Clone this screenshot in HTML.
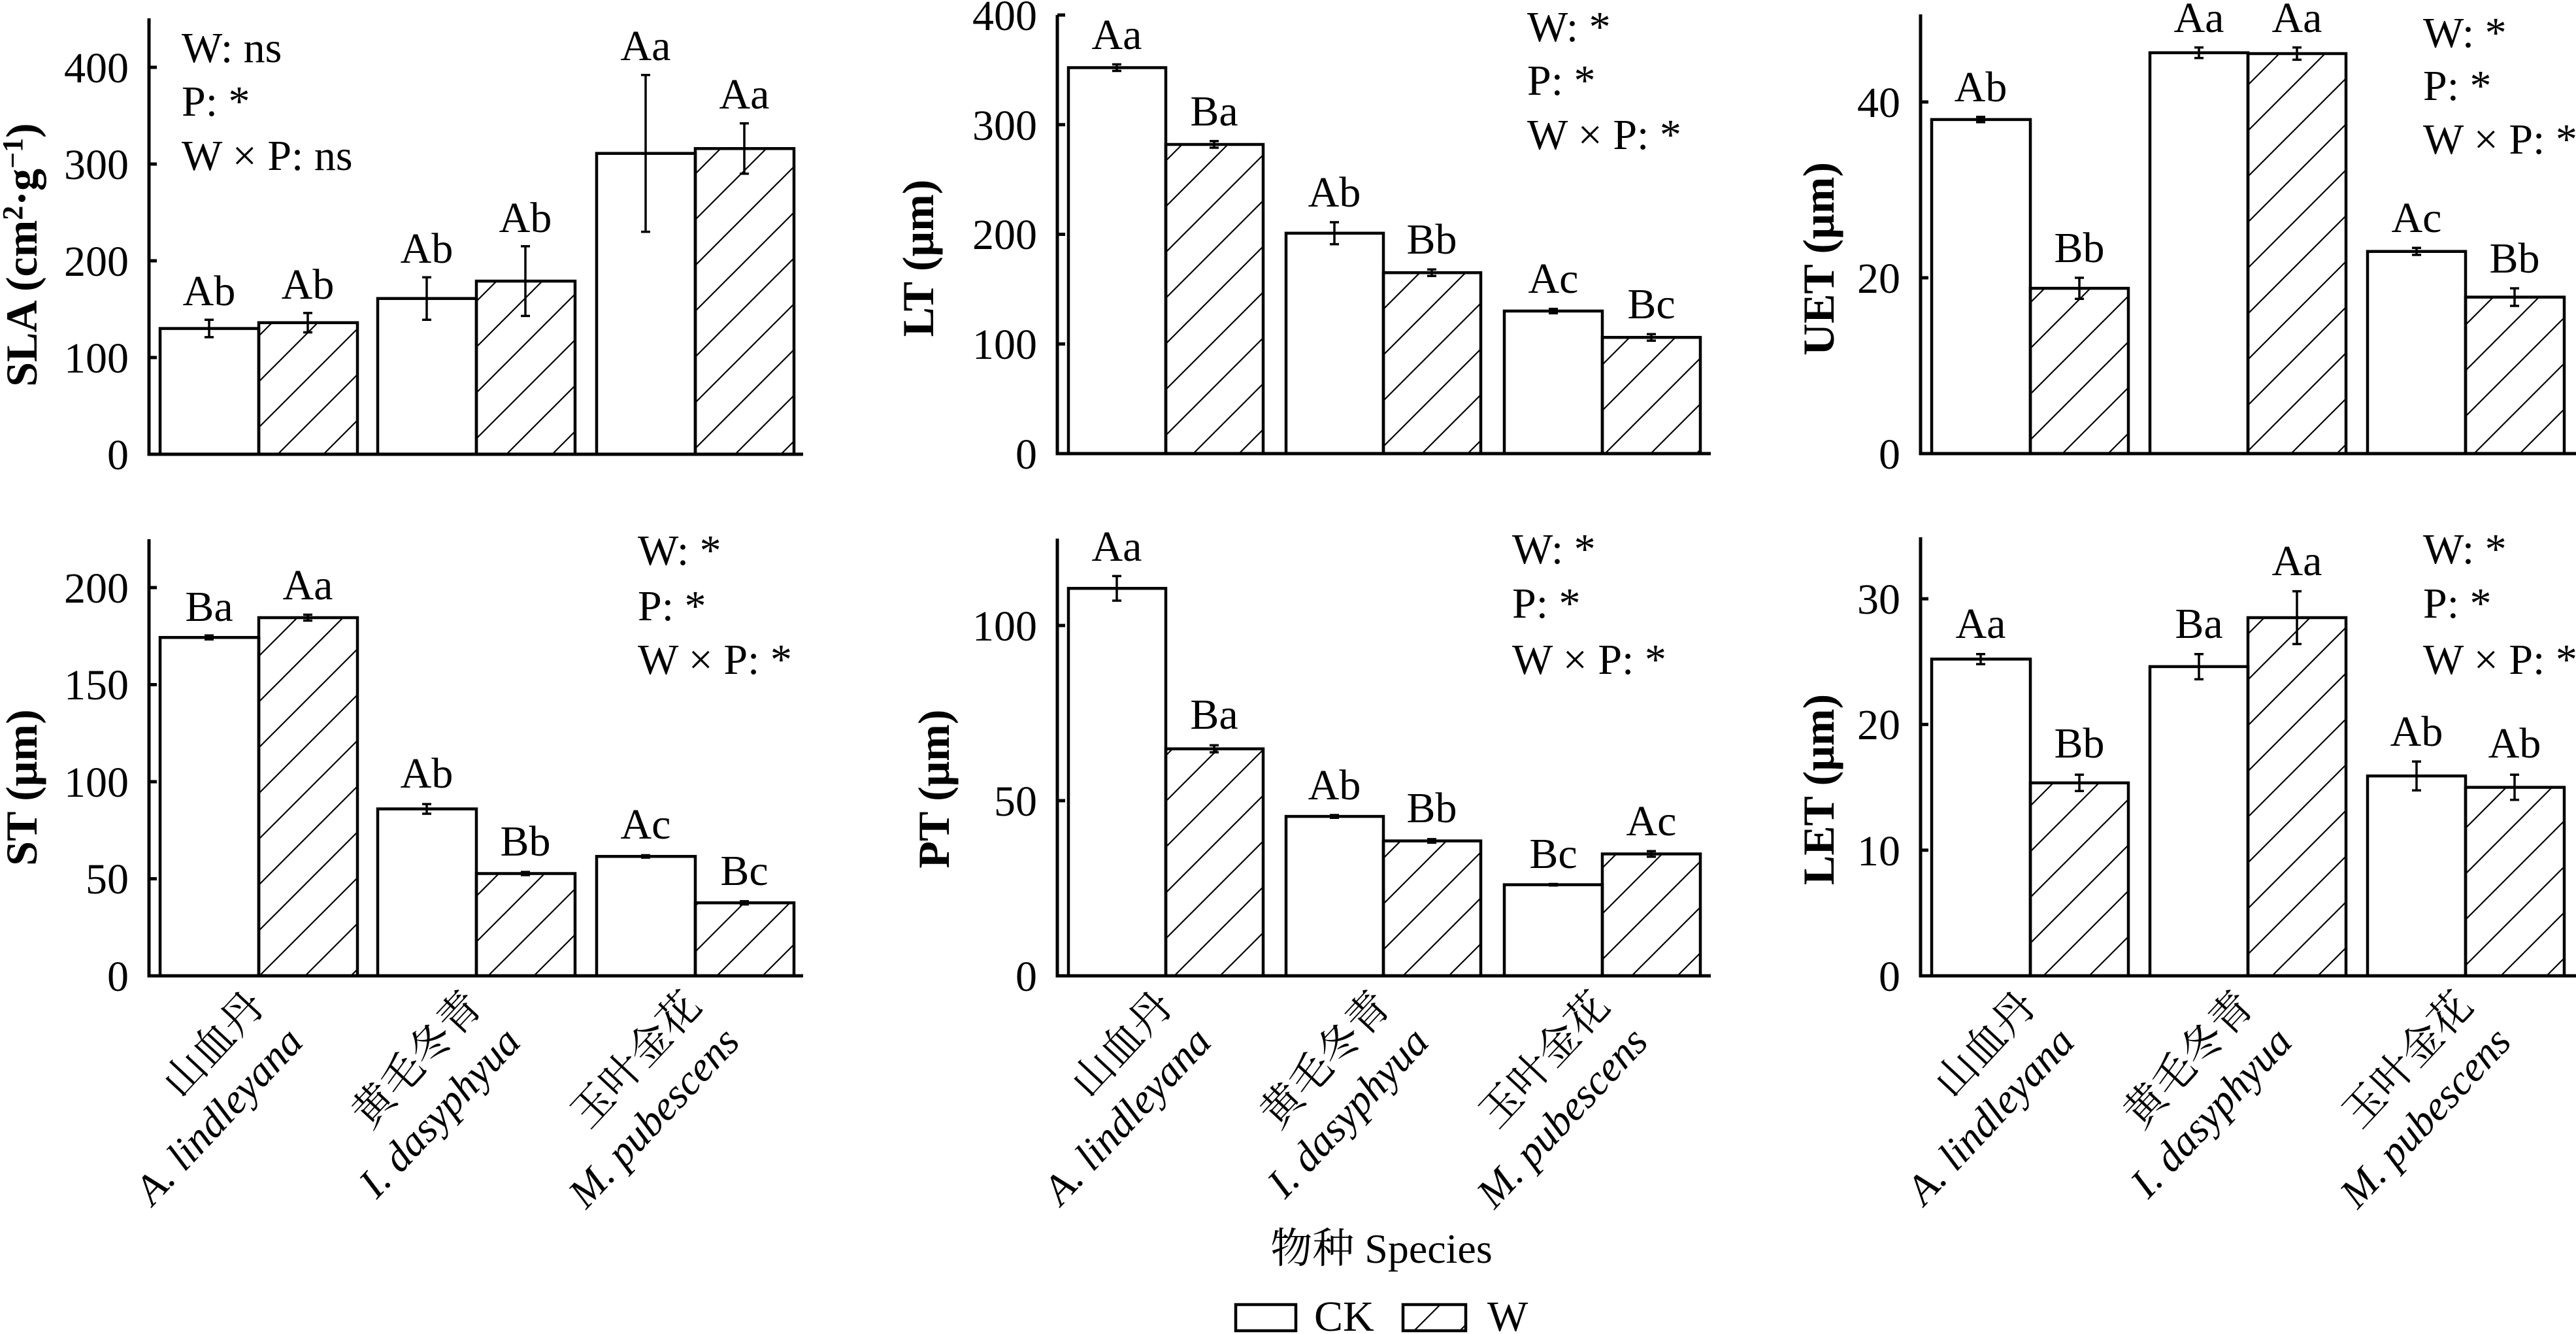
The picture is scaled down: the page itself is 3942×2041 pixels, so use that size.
<!DOCTYPE html>
<html><head><meta charset="utf-8"><style>
html,body{margin:0;padding:0;background:#fff;}
svg{display:block;}
text{font-family:"Liberation Serif","Noto Serif CJK SC",serif;fill:#000;}
.t{font-size:66px;}
.tk{font-size:66px;text-anchor:end;}
.bl{font-size:66px;text-anchor:middle;}
.yl{font-size:68px;font-weight:bold;text-anchor:middle;}
.xl{font-size:64px;text-anchor:end;}
.ax{stroke:#000;stroke-width:5;fill:none;}
.bar{stroke:#000;stroke-width:4.5;}
.eb{stroke:#000;stroke-width:3.5;fill:none;}
</style></head><body>
<svg width="3942" height="2041" viewBox="0 0 3942 2041" xmlns="http://www.w3.org/2000/svg">
<defs>
<pattern id="h" patternUnits="userSpaceOnUse" width="70" height="70">
<line x1="-5" y1="75" x2="75" y2="-5" stroke="#000" stroke-width="2.2"/>
<line x1="-40" y1="40" x2="40" y2="-40" stroke="#000" stroke-width="2.2"/>
<line x1="30" y1="110" x2="110" y2="30" stroke="#000" stroke-width="2.2"/>
</pattern>
</defs>
<rect width="3942" height="2041" fill="#fff"/>

<!-- ===== Panel 1 SLA ===== -->
<g>
<rect class="bar" x="245" y="502.6" width="151" height="192.4" fill="#fff"/>
<rect class="bar" x="396" y="493.7" width="151" height="201.3" fill="url(#h)"/>
<rect class="bar" x="578" y="456.7" width="151" height="238.3" fill="#fff"/>
<rect class="bar" x="729" y="430.1" width="151" height="264.9" fill="url(#h)"/>
<rect class="bar" x="913" y="234.7" width="151" height="460.3" fill="#fff"/>
<rect class="bar" x="1064" y="227.3" width="151" height="467.7" fill="url(#h)"/>
<path class="eb" d="M320,489.3V515.9M313,489.3h14M313,515.9h14 M471,478.9V508.5M464,478.9h14M464,508.5h14 M653,424.2V489.3M646,424.2h14M646,489.3h14 M804,376.8V483.4M797,376.8h14M797,483.4h14 M988,114.8V354.6M981,114.8h14M981,354.6h14 M1139,188.8V265.8M1132,188.8h14M1132,265.8h14"/>
<text class="bl" x="320" y="467">Ab</text><text class="bl" x="471" y="457">Ab</text>
<text class="bl" x="653" y="402">Ab</text><text class="bl" x="804" y="355">Ab</text>
<text class="bl" x="988" y="92">Aa</text><text class="bl" x="1139" y="166">Aa</text>
<path class="ax" d="M228,28V695H1229 M228,547h12M228,399h12M228,251h12M228,103h12"/>
<text class="tk" x="197" y="718">0</text><text class="tk" x="197" y="570">100</text><text class="tk" x="197" y="422">200</text><text class="tk" x="197" y="274">300</text><text class="tk" x="197" y="126">400</text>
<text class="t" x="278" y="95">W: ns</text><text class="t" x="278" y="177">P: *</text><text class="t" x="278" y="260">W × P: ns</text>
<text class="yl" transform="translate(56,390) rotate(-90)">SLA (cm<tspan dy="-22" font-size="44">2</tspan><tspan dy="22">·g</tspan><tspan dy="-22" font-size="44">−1</tspan><tspan dy="22">)</tspan></text>
</g>

<!-- ===== Panel 2 LT ===== -->
<g>
<rect class="bar" x="1635" y="103.5" width="149" height="590.5" fill="#fff"/>
<rect class="bar" x="1784" y="221" width="149" height="473" fill="url(#h)"/>
<rect class="bar" x="1968" y="356.8" width="149" height="337.2" fill="#fff"/>
<rect class="bar" x="2117" y="417.2" width="149" height="276.8" fill="url(#h)"/>
<rect class="bar" x="2302" y="475.9" width="150" height="218.1" fill="#fff"/>
<rect class="bar" x="2452" y="516.2" width="150" height="177.8" fill="url(#h)"/>
<path class="eb" d="M1709,98.5V108.5M1702,98.5h14M1702,108.5h14 M1858,215.9V226M1851,215.9h14M1851,226h14 M2042,340V373.6M2035,340h14M2035,373.6h14 M2191,412.2V422.2M2184,412.2h14M2184,422.2h14 M2377,472.6V479.3M2370,472.6h14M2370,479.3h14 M2527,511.2V521.2M2520,511.2h14M2520,521.2h14"/>
<text class="bl" x="1709" y="75">Aa</text><text class="bl" x="1858" y="192">Ba</text>
<text class="bl" x="2042" y="316">Ab</text><text class="bl" x="2191" y="388">Bb</text>
<text class="bl" x="2377" y="448">Ac</text><text class="bl" x="2527" y="487">Bc</text>
<path class="ax" d="M1618,23V694H2618 M1618,526.3h12M1618,358.5h12M1618,190.8h12M1618,23h12"/>
<text class="tk" x="1587" y="717">0</text><text class="tk" x="1587" y="549">100</text><text class="tk" x="1587" y="381">200</text><text class="tk" x="1587" y="214">300</text><text class="tk" x="1587" y="46">400</text>
<text class="t" x="2337" y="63">W: *</text><text class="t" x="2337" y="145">P: *</text><text class="t" x="2337" y="228">W × P: *</text>
<text class="yl" transform="translate(1428,395) rotate(-90)">LT (μm)</text>
</g>

<!-- ===== Panel 3 UET ===== -->
<g>
<rect class="bar" x="2956" y="182.9" width="151" height="511.1" fill="#fff"/>
<rect class="bar" x="3107" y="441.1" width="150" height="252.9" fill="url(#h)"/>
<rect class="bar" x="3290" y="80.7" width="150" height="613.3" fill="#fff"/>
<rect class="bar" x="3440" y="82" width="150" height="612" fill="url(#h)"/>
<rect class="bar" x="3623" y="384.7" width="150" height="309.3" fill="#fff"/>
<rect class="bar" x="3773" y="454.6" width="151" height="239.4" fill="url(#h)"/>
<path class="eb" d="M3031,178.9V186.9M3024,178.9h14M3024,186.9h14 M3182,425V457.3M3175,425h14M3175,457.3h14 M3365,72.6V88.8M3358,72.6h14M3358,88.8h14 M3515,72.6V91.4M3508,72.6h14M3508,91.4h14 M3698,379.3V390M3691,379.3h14M3691,390h14 M3848,441.1V468M3841,441.1h14M3841,468h14"/>
<text class="bl" x="3031" y="155">Ab</text><text class="bl" x="3182" y="401">Bb</text>
<text class="bl" x="3365" y="49">Aa</text><text class="bl" x="3515" y="49">Aa</text>
<text class="bl" x="3698" y="355">Ac</text><text class="bl" x="3848" y="417">Bb</text>
<path class="ax" d="M2939,22V694H3942 M2939,425h12M2939,156h12"/>
<text class="tk" x="2908" y="717">0</text><text class="tk" x="2908" y="448">20</text><text class="tk" x="2908" y="179">40</text>
<text class="t" x="3708" y="72">W: *</text><text class="t" x="3708" y="153">P: *</text><text class="t" x="3708" y="235">W × P: *</text>
<text class="yl" transform="translate(2806,396) rotate(-90)">UET (μm)</text>
</g>

<!-- ===== Panel 4 ST ===== -->
<g>
<rect class="bar" x="245" y="975.3" width="151" height="517.7" fill="#fff"/>
<rect class="bar" x="396" y="945" width="151" height="548" fill="url(#h)"/>
<rect class="bar" x="578" y="1237.6" width="151" height="255.4" fill="#fff"/>
<rect class="bar" x="729" y="1336.5" width="151" height="156.5" fill="url(#h)"/>
<rect class="bar" x="913" y="1310.3" width="151" height="182.7" fill="#fff"/>
<rect class="bar" x="1064" y="1381.3" width="151" height="111.7" fill="url(#h)"/>
<path class="eb" d="M320,972.3V978.3M313,972.3h14M313,978.3h14 M471,940.5V949.5M464,940.5h14M464,949.5h14 M653,1230.2V1245M646,1230.2h14M646,1245h14 M804,1334.1V1338.9M797,1334.1h14M797,1338.9h14 M988,1308.5V1312.1M981,1308.5h14M981,1312.1h14 M1139,1378.9V1383.7M1132,1378.9h14M1132,1383.7h14"/>
<text class="bl" x="320" y="950">Ba</text><text class="bl" x="471" y="917">Aa</text>
<text class="bl" x="653" y="1205">Ab</text><text class="bl" x="804" y="1309">Bb</text>
<text class="bl" x="988" y="1283">Ac</text><text class="bl" x="1139" y="1354">Bc</text>
<path class="ax" d="M228,825V1493H1229 M228,1344.5h12M228,1196h12M228,1047.5h12M228,899h12"/>
<text class="tk" x="197" y="1516">0</text><text class="tk" x="197" y="1367">50</text><text class="tk" x="197" y="1219">100</text><text class="tk" x="197" y="1070">150</text><text class="tk" x="197" y="922">200</text>
<text class="t" x="976" y="864">W: *</text><text class="t" x="976" y="949">P: *</text><text class="t" x="976" y="1031">W × P: *</text>
<text class="yl" transform="translate(56,1205) rotate(-90)">ST (μm)</text>
</g>

<!-- ===== Panel 5 PT ===== -->
<g>
<rect class="bar" x="1635" y="900.2" width="149" height="592.8" fill="#fff"/>
<rect class="bar" x="1784" y="1145.7" width="149" height="347.3" fill="url(#h)"/>
<rect class="bar" x="1968" y="1249.1" width="149" height="243.9" fill="#fff"/>
<rect class="bar" x="2117" y="1286.6" width="149" height="206.4" fill="url(#h)"/>
<rect class="bar" x="2302" y="1353.6" width="150" height="139.4" fill="#fff"/>
<rect class="bar" x="2452" y="1306.5" width="150" height="186.5" fill="url(#h)"/>
<path class="eb" d="M1709,881.4V919M1702,881.4h14M1702,919h14 M1858,1140.3V1151M1851,1140.3h14M1851,1151h14 M2042,1247V1251.3M2035,1247h14M2035,1251.3h14 M2191,1283.9V1289.3M2184,1283.9h14M2184,1289.3h14 M2377,1352.5V1354.7M2370,1352.5h14M2370,1354.7h14 M2527,1302.2V1310.8M2520,1302.2h14M2520,1310.8h14"/>
<text class="bl" x="1709" y="858">Aa</text><text class="bl" x="1858" y="1115">Ba</text>
<text class="bl" x="2042" y="1223">Ab</text><text class="bl" x="2191" y="1258">Bb</text>
<text class="bl" x="2377" y="1328">Bc</text><text class="bl" x="2527" y="1278">Ac</text>
<path class="ax" d="M1618,824V1493H2618 M1618,1225h12M1618,957h12"/>
<text class="tk" x="1587" y="1516">0</text><text class="tk" x="1587" y="1248">50</text><text class="tk" x="1587" y="980">100</text>
<text class="t" x="2314" y="862">W: *</text><text class="t" x="2314" y="945">P: *</text><text class="t" x="2314" y="1031">W × P: *</text>
<text class="yl" transform="translate(1452,1207) rotate(-90)">PT (μm)</text>
</g>

<!-- ===== Panel 6 LET ===== -->
<g>
<rect class="bar" x="2956" y="1008.4" width="151" height="484.6" fill="#fff"/>
<rect class="bar" x="3107" y="1197.8" width="150" height="295.2" fill="url(#h)"/>
<rect class="bar" x="3290" y="1019.9" width="150" height="473.1" fill="#fff"/>
<rect class="bar" x="3440" y="945" width="150" height="548" fill="url(#h)"/>
<rect class="bar" x="3623" y="1187.2" width="150" height="305.8" fill="#fff"/>
<rect class="bar" x="3773" y="1204.6" width="151" height="288.4" fill="url(#h)"/>
<path class="eb" d="M3031,1000.7V1016.1M3024,1000.7h14M3024,1016.1h14 M3182,1185.3V1210.3M3175,1185.3h14M3175,1210.3h14 M3365,1000.7V1039.2M3358,1000.7h14M3358,1039.2h14 M3515,904.6V985.4M3508,904.6h14M3508,985.4h14 M3698,1165.1V1209.3M3691,1165.1h14M3691,1209.3h14 M3848,1185.3V1223.8M3841,1185.3h14M3841,1223.8h14"/>
<text class="bl" x="3031" y="976">Aa</text><text class="bl" x="3182" y="1159">Bb</text>
<text class="bl" x="3365" y="976">Ba</text><text class="bl" x="3515" y="880">Aa</text>
<text class="bl" x="3698" y="1141">Ab</text><text class="bl" x="3848" y="1159">Ab</text>
<path class="ax" d="M2939,822V1493H3942 M2939,1300.7h12M2939,1108.4h12M2939,916.1h12"/>
<text class="tk" x="2908" y="1516">0</text><text class="tk" x="2908" y="1324">10</text><text class="tk" x="2908" y="1131">20</text><text class="tk" x="2908" y="939">30</text>
<text class="t" x="3708" y="862">W: *</text><text class="t" x="3708" y="945">P: *</text><text class="t" x="3708" y="1031">W × P: *</text>
<text class="yl" transform="translate(2806,1208) rotate(-90)">LET (μm)</text>
</g>

<!-- ===== X labels ===== -->
<g class="xl">
<g transform="translate(408,1542) rotate(-47)"><text class="xl">山血丹</text><text class="xl" y="80" font-style="italic">A. lindleyana</text></g>
<g transform="translate(741,1542) rotate(-47)"><text class="xl">黄毛冬青</text><text class="xl" y="80" font-style="italic">I. dasyphyua</text></g>
<g transform="translate(1076,1542) rotate(-47)"><text class="xl">玉叶金花</text><text class="xl" y="80" font-style="italic">M. pubescens</text></g>
<g transform="translate(1798,1542) rotate(-47)"><text class="xl">山血丹</text><text class="xl" y="80" font-style="italic">A. lindleyana</text></g>
<g transform="translate(2131,1542) rotate(-47)"><text class="xl">黄毛冬青</text><text class="xl" y="80" font-style="italic">I. dasyphyua</text></g>
<g transform="translate(2466,1542) rotate(-47)"><text class="xl">玉叶金花</text><text class="xl" y="80" font-style="italic">M. pubescens</text></g>
<g transform="translate(3119,1542) rotate(-47)"><text class="xl">山血丹</text><text class="xl" y="80" font-style="italic">A. lindleyana</text></g>
<g transform="translate(3452,1542) rotate(-47)"><text class="xl">黄毛冬青</text><text class="xl" y="80" font-style="italic">I. dasyphyua</text></g>
<g transform="translate(3787,1542) rotate(-47)"><text class="xl">玉叶金花</text><text class="xl" y="80" font-style="italic">M. pubescens</text></g>
</g>

<text x="2114" y="1932" font-size="64" text-anchor="middle">物种 Species</text>

<!-- Legend -->
<rect x="1891" y="1996" width="92" height="40" fill="#fff" stroke="#000" stroke-width="4.5"/>
<text x="2011" y="2036" font-size="66">CK</text>
<rect x="2147" y="1996" width="96" height="40" fill="url(#h)" stroke="#000" stroke-width="4.5"/>
<text x="2276" y="2036" font-size="66">W</text>
</svg>
</body></html>
